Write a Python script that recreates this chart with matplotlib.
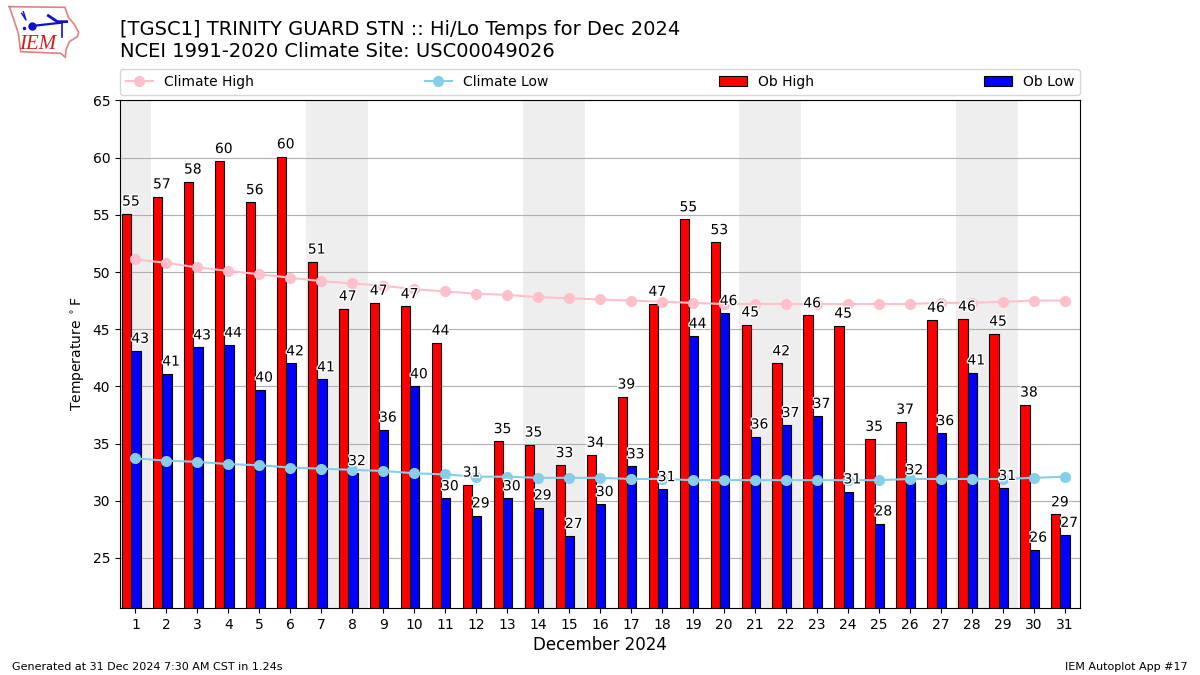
import numpy as np
import matplotlib
matplotlib.use('Agg')
import matplotlib.pyplot as plt
import matplotlib.patheffects as pe

days = np.arange(1, 32)
ob_high = [55.1, 56.6, 57.9, 59.7, 56.1, 60.1, 50.9, 46.8, 47.3, 47.0, 43.8, 31.4, 35.2, 34.9, 33.1, 34.0,
           39.1, 47.2, 54.6, 52.6, 45.4, 42.0, 46.2, 45.3, 35.4, 36.9, 45.8, 45.9, 44.6, 38.4, 28.8]
ob_low = [43.1, 41.1, 43.4, 43.6, 39.7, 42.0, 40.6, 32.4, 36.2, 40.0, 30.2, 28.7, 30.2, 29.4, 26.9, 29.7,
          33.0, 31.0, 44.4, 46.4, 35.6, 36.6, 37.4, 30.8, 28.0, 31.6, 35.9, 41.2, 31.1, 25.7, 27.0]
climate_high = [51.1, 50.8, 50.4, 50.1, 49.8, 49.5, 49.2, 49.0, 48.8, 48.5, 48.3, 48.1, 48.0, 47.8, 47.7, 47.6,
                47.5, 47.4, 47.3, 47.2, 47.2, 47.2, 47.2, 47.2, 47.2, 47.2, 47.3, 47.3, 47.4, 47.5, 47.5]
climate_low = [33.7, 33.5, 33.4, 33.2, 33.1, 32.9, 32.8, 32.7, 32.6, 32.4, 32.3, 32.1, 32.1, 32.0, 32.0, 32.0,
               31.9, 31.9, 31.8, 31.8, 31.8, 31.8, 31.8, 31.8, 31.8, 31.9, 31.9, 31.9, 31.9, 32.0, 32.1]
weekends = [(0, 1.5), (6.5, 8.5), (13.5, 15.5), (20.5, 22.5), (27.5, 29.5)]

fig = plt.figure(figsize=(12, 6.75), dpi=100)
ax = fig.add_axes([0.1, 0.0993, 0.8, 0.7527])

# weekend shading
for start, end in weekends:
    ax.axvspan(start, end, color='#eeeeee', lw=0, zorder=0)

width = 0.3
ax.bar(days - 0.28, ob_high, width, color='red', edgecolor='k', lw=0.8, label='Ob High', zorder=2)
ax.bar(days + 0.02, ob_low, width, color='blue', edgecolor='k', lw=0.8, label='Ob Low', zorder=2)
ax.plot(days, climate_high, color='pink', marker='o', ms=7, lw=1.5, label='Climate High', zorder=3)
ax.plot(days, climate_low, color='skyblue', marker='o', ms=7, lw=1.5, label='Climate Low', zorder=3)

stroke = [pe.withStroke(linewidth=2, foreground='white')]
for d, hi, lo in zip(days, ob_high, ob_low):
    ax.text(d - 0.15, hi + 0.45, f'{hi:.0f}', ha='center', va='bottom', fontsize=10, path_effects=stroke, zorder=4)
    ax.text(d + 0.15, lo + 0.45, f'{lo:.0f}', ha='center', va='bottom', fontsize=10, path_effects=stroke, zorder=4)

ax.set_xlim(0.5, 31.5)
ax.set_ylim(20.62, 65.05)
ax.set_xticks(days)
ax.set_yticks(np.arange(25, 66, 5))
ax.yaxis.grid(True, color='#b0b0b0', lw=0.8, zorder=1)
ax.set_axisbelow(True)
ax.set_xlabel('December 2024', fontsize=12, labelpad=3)
ax.set_ylabel(r'Temperature $^\circ$F')

handles, labels = ax.get_legend_handles_labels()
order = [labels.index(n) for n in ['Climate High', 'Climate Low', 'Ob High', 'Ob Low']]
ax.legend([handles[i] for i in order], [labels[i] for i in order], ncol=4, mode='expand',
          loc='lower left', bbox_to_anchor=(0, 1.0105, 1, 0.05), borderaxespad=0, fontsize=10)

fig.text(0.1, 0.9565, '[TGSC1] TRINITY GUARD STN :: Hi/Lo Temps for Dec 2024', fontsize=14, va='center')
fig.text(0.1, 0.9235, 'NCEI 1991-2020 Climate Site: USC00049026', fontsize=14, va='center')
fig.text(0.01, 0.0125, 'Generated at 31 Dec 2024 7:30 AM CST in 1.24s', fontsize=8, va='center')
fig.text(0.99, 0.0125, 'IEM Autoplot App #17', fontsize=8, ha='right', va='center')

# rough IEM logo, coords in zoomed logo pixels
logo = fig.add_axes([0, 1 - 70 / 675, 0.1, 70 / 675])
logo.set_xlim(0, 360)
logo.set_ylim(210, 0)
logo.axis('off')
outline_x = [28, 195, 205, 222, 236, 232, 208, 198, 196, 182, 62, 55, 40, 28]
outline_y = [20, 22, 52, 72, 97, 110, 125, 150, 172, 160, 155, 100, 55, 20]
logo.plot(outline_x, outline_y, color='#e08080', lw=1.2)
logo.plot([95, 185], [78, 68], color='#1010d0', lw=1.6)
logo.plot([95], [78], 'o', color='#1010d0', ms=5)
logo.plot([145, 172, 200], [47, 65, 65], color='#1010d0', lw=2)
logo.plot([185, 185], [68, 112], color='#1010d0', lw=1.2)
logo.plot([70, 78, 65], [35, 60, 40], color='#1010d0', lw=1)
logo.plot([72], [85], 'o', color='#1010d0', ms=1.5)
logo.text(112, 133, 'IEM', color='#cc2020', family='Liberation Serif', style='italic',
          fontsize=15, ha='center', va='center')

fig.savefig('out.png', dpi=100)
